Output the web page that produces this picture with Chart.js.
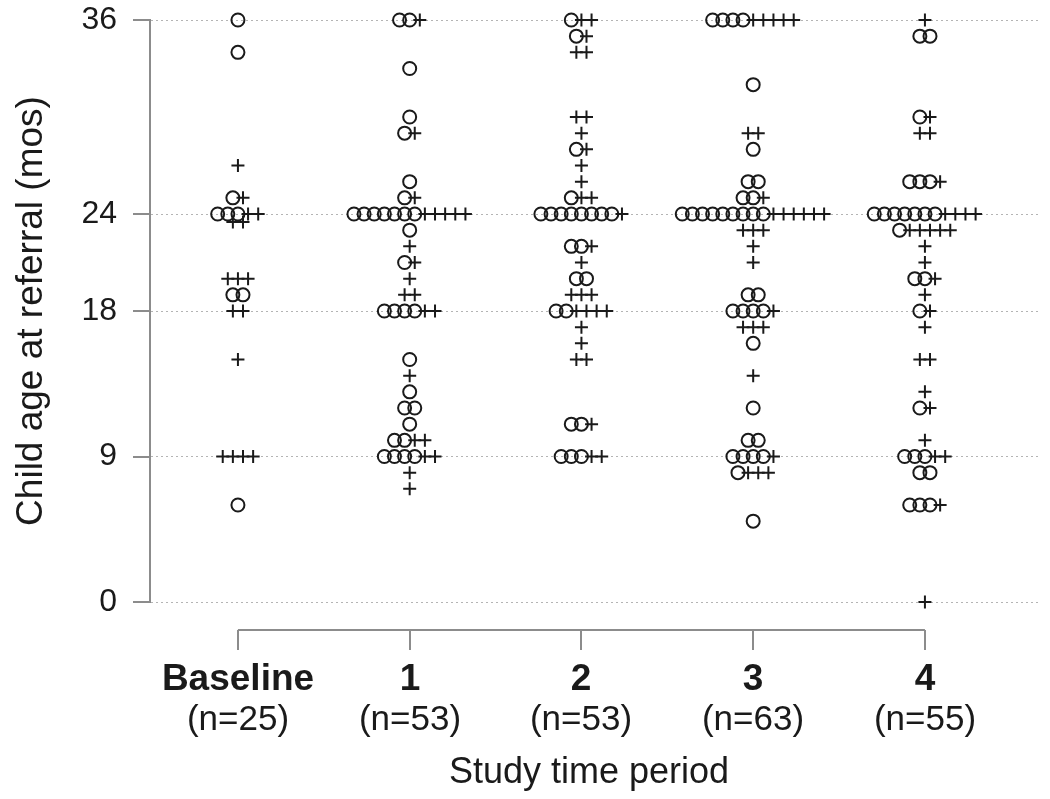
<!doctype html>
<html>
<head>
<title>Child age at referral</title>
<script src="https://cdn.jsdelivr.net/npm/chart.js@4.4.0/dist/chart.umd.min.js"></script>
<style>
  body { margin: 0; background: #fff; }
</style>
</head>
<body>
<canvas id="canvas" width="1050" height="799"></canvas>
<script>
const periods = ['Baseline', '1', '2', '3', '4'];
const sampleSizes = [25, 53, 53, 63, 55];
const yTicks = [0, 9, 18, 24, 36];

// ages (months) drawn as circles, one list per period
const circleAges = [
  [36, 34, 25, 24, 24, 24, 19, 19, 6],
  [36, 36, 33, 30, 29, 26, 25, 24, 24, 24, 24, 24, 24, 24, 23, 21, 18, 18, 18, 18, 15, 13, 12, 12, 11, 10, 10, 9, 9, 9, 9],
  [36, 35, 28, 25, 24, 24, 24, 24, 24, 24, 24, 24, 22, 22, 20, 20, 18, 18, 11, 11, 9, 9, 9],
  [36, 36, 36, 36, 32, 28, 26, 26, 25, 25, 24, 24, 24, 24, 24, 24, 24, 24, 24, 19, 19, 18, 18, 18, 18, 16, 12, 10, 10, 9, 9, 9, 9, 8, 5],
  [35, 35, 30, 26, 26, 26, 24, 24, 24, 24, 24, 24, 24, 23, 20, 20, 18, 12, 9, 9, 9, 8, 8, 6, 6, 6]
];

// ages (months) drawn as plus signs, one list per period
const plusAges = [
  [27, 25, 24, 24, 23.5, 23.5, 20, 20, 20, 18, 18, 15, 9, 9, 9, 9],
  [36, 29, 25, 24, 24, 24, 24, 24, 22, 21, 20, 19, 19, 18, 18, 14, 10, 10, 9, 9, 8, 7],
  [36, 36, 35, 34, 34, 30, 30, 29, 28, 27, 26, 25, 25, 24, 22, 21, 19, 19, 19, 18, 18, 18, 18, 17, 16, 15, 15, 11, 9, 9],
  [36, 36, 36, 36, 36, 29, 29, 25, 24, 24, 24, 24, 24, 24, 23, 23, 23, 22, 21, 18, 17, 17, 17, 14, 9, 8, 8, 8],
  [36, 30, 29, 29, 26, 24, 24, 24, 24, 23, 23, 23, 23, 23, 22, 21, 20, 19, 18, 17, 15, 15, 13, 12, 10, 9, 9, 6, 0]
];

const STEP = 0.059; // horizontal gap between markers sharing one value
const FONT = '"Liberation Sans", Arial, sans-serif';
const INK = '#1a1a1a';
const AXIS = '#8c8c8c';

// spread markers of equal value side by side, circles first then pluses
let circlePts = [];
let plusPts = [];
periods.forEach((p, i) => {
    let values = [...new Set(circleAges[i].concat(plusAges[i]))];
    values.forEach(v => {
        let c = circleAges[i].filter(a => a === v).length;
        let q = plusAges[i].filter(a => a === v).length;
        let n = c + q;
        for (let k = 0; k < n; k++) {
            let pt = { x: i + (k - (n - 1) / 2) * STEP, y: v };
            if (k < c) circlePts.push(pt);
            else plusPts.push(pt);
        }
    });
});

const axisDecor = {
    id: 'axisDecor',
    afterDraw(chart) {
        const ctx = chart.ctx;
        const xs = chart.scales.x;
        const ys = chart.scales.y;
        ctx.save();
        ctx.strokeStyle = AXIS;
        ctx.lineWidth = 2;
        // y tick marks
        yTicks.forEach(v => {
            let y = Math.round(ys.getPixelForValue(v));
            ctx.beginPath();
            ctx.moveTo(ys.right - 17, y);
            ctx.lineTo(ys.right, y);
            ctx.stroke();
        });
        // x axis line with tick marks
        let y0 = chart.chartArea.bottom + 28;
        ctx.beginPath();
        ctx.moveTo(xs.getPixelForValue(0), y0);
        ctx.lineTo(xs.getPixelForValue(periods.length - 1), y0);
        ctx.stroke();
        ctx.fillStyle = INK;
        ctx.textAlign = 'center';
        ctx.textBaseline = 'middle';
        periods.forEach((p, i) => {
            let x = Math.round(xs.getPixelForValue(i));
            ctx.beginPath();
            ctx.moveTo(x, y0);
            ctx.lineTo(x, y0 + 20);
            ctx.stroke();
            ctx.font = 'bold 37px ' + FONT;
            ctx.fillText(p, x, y0 + 50);
            ctx.font = '35px ' + FONT;
            ctx.fillText('(n=' + sampleSizes[i] + ')', x, y0 + 90);
        });
        ctx.font = '36px ' + FONT;
        ctx.fillText('Study time period', (chart.chartArea.left + chart.chartArea.right) / 2 - 6, y0 + 143);
        ctx.restore();
    }
};

new Chart(document.getElementById('canvas').getContext('2d'), {
    type: 'scatter',
    data: {
        datasets: [{
            label: 'circle',
            data: circlePts,
            pointStyle: 'circle',
            pointRadius: 6.5,
            borderWidth: 2,
            borderColor: INK,
            backgroundColor: 'rgba(0,0,0,0)',
            clip: false
        }, {
            label: 'plus',
            data: plusPts,
            pointStyle: 'cross',
            pointRadius: 6.5,
            borderWidth: 2,
            borderColor: INK,
            clip: false
        }]
    },
    plugins: [axisDecor],
    options: {
        responsive: false,
        animation: false,
        events: [],
        layout: { padding: { top: 20, right: 10, bottom: 197, left: 0 } },
        plugins: {
            legend: { display: false },
            tooltip: { enabled: false }
        },
        scales: {
            x: {
                type: 'linear',
                min: -0.512,
                max: 4.67,
                display: false
            },
            y: {
                type: 'linear',
                min: 0,
                max: 36,
                afterBuildTicks: s => { s.ticks = yTicks.map(v => ({ value: v })); },
                afterFit: s => { s.width = 150; s.paddingTop = 0; s.paddingBottom = 0; },
                grid: { color: '#b4b4b4', lineWidth: 1, drawTicks: false },
                border: { display: true, color: AXIS, width: 2, dash: [2, 3] },
                ticks: { padding: 33, color: INK, font: { family: FONT, size: 32 } },
                title: {
                    display: true,
                    text: 'Child age at referral (mos)',
                    color: INK,
                    font: { family: FONT, size: 37 },
                    padding: { top: 10, bottom: 0 }
                }
            }
        }
    }
});
</script>
</body>
</html>
